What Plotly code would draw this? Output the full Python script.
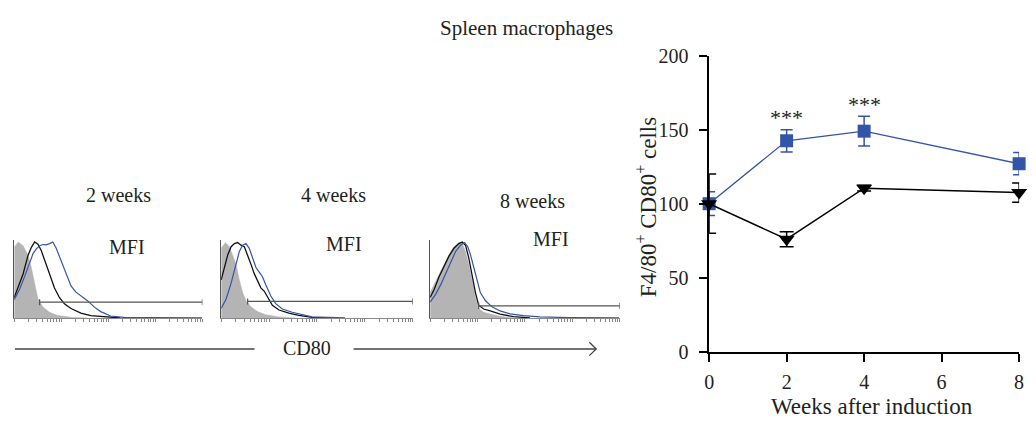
import numpy as np
import plotly.graph_objects as go

W, H = 1036, 434

# ---------------- time course: F4/80+ CD80+ cells ----------------
weeks = [0, 2, 4, 8]
blue_mean = [100, 142.5, 149, 127]
blue_err = [8, 7.5, 10, 7.5]
black_mean = [100, 76, 110.5, 107.5]
black_err = [20, 5, 2, 6.5]
star_weeks = [2, 4]
star_heights = [158.5, 167]
y_ticks = [0, 50, 100, 150, 200]
x_ticks = [0, 2, 4, 6, 8]

# ---------------- CD80 histograms (decades of fluorescence, % of max) ----------------
panel_labels = ["2 weeks", "4 weeks", "8 weeks"]

gray1_x = [0, 0.084, 0.189, 0.295, 0.365, 0.435, 0.505, 0.611, 0.751, 0.926, 1.207, 1.558]
gray1_y = [93.0, 100, 95.0, 82.6, 66.1, 43.4, 24.8, 14.5, 7.4, 3.3, 0.8, 0]
black1_x = [0, 0.084, 0.189, 0.295, 0.365, 0.435, 0.505, 0.575, 0.681, 0.786, 0.856, 0.961,
            1.067, 1.207, 1.418, 1.628, 1.909, 2.260]
black1_y = [26.9, 41.3, 57.9, 82.6, 93.0, 100, 97.1, 88.8, 69.4, 51.7, 39.3, 26.9,
            18.6, 12.4, 6.2, 2.9, 1.2, 0]
blue1_x = [0, 0.119, 0.225, 0.330, 0.400, 0.470, 0.540, 0.611, 0.681, 0.751, 0.821, 0.891,
           0.961, 1.032, 1.102, 1.207, 1.312, 1.453, 1.558, 1.698, 1.839, 2.049, 2.330,
           2.961, 4.0]
blue1_y = [24.0, 38.4, 55.0, 72.7, 84.7, 90.9, 95.0, 96.7, 96.3, 97.9, 100, 92.1,
           80.6, 69.4, 57.9, 42.1, 33.9, 28.1, 22.7, 14.5, 8.3, 2.5, 0.8, 0.4, 0]

gray2_x = [0, 0.090, 0.172, 0.241, 0.310, 0.379, 0.448, 0.517, 0.621, 0.759, 0.931, 1.207, 1.552]
gray2_y = [91.7, 99.2, 93.8, 83.3, 70.8, 50.0, 33.3, 22.9, 14.6, 8.3, 4.2, 1.3, 0]
black2_x = [0, 0.069, 0.138, 0.207, 0.276, 0.345, 0.414, 0.483, 0.552, 0.621, 0.690, 0.759,
            0.828, 0.897, 0.966, 1.069, 1.207, 1.414, 1.621, 1.897, 2.241]
black2_y = [50.0, 66.7, 83.3, 93.8, 97.9, 99.2, 95.8, 93.8, 83.3, 70.8, 58.3, 50.0,
            39.6, 35.4, 27.1, 16.7, 10.4, 6.3, 3.3, 0.8, 0]
blue2_x = [0, 0.103, 0.207, 0.310, 0.379, 0.448, 0.517, 0.586, 0.655, 0.724, 0.793, 0.862,
           0.931, 1.034, 1.138, 1.276, 1.483, 1.690, 1.897, 2.586]
blue2_y = [12.5, 25.0, 45.8, 70.8, 87.5, 95.8, 97.9, 91.7, 79.2, 66.7, 60.4, 54.2,
           43.8, 29.2, 18.8, 11.7, 7.5, 4.2, 1.3, 0]

gray3_x = [0, 0.084, 0.188, 0.293, 0.397, 0.502, 0.606, 0.676, 0.746, 0.815, 0.885, 0.955,
           1.024, 1.129, 1.268, 1.477, 1.756]
gray3_y = [33.3, 43.8, 58.3, 70.8, 83.3, 93.8, 99.2, 97.9, 87.5, 70.8, 50.0, 27.1,
           12.5, 7.5, 5.0, 2.1, 0]
black3_x = [0, 0.084, 0.188, 0.293, 0.397, 0.502, 0.606, 0.676, 0.746, 0.815, 0.885, 0.955,
            1.024, 1.129, 1.268, 1.477, 1.756, 2.105]
black3_y = [27.1, 37.5, 54.2, 68.8, 81.3, 91.7, 97.9, 100, 95.8, 79.2, 54.2, 33.3,
            16.7, 11.7, 9.2, 5.0, 1.7, 0]
blue3_x = [0, 0.118, 0.223, 0.328, 0.432, 0.537, 0.641, 0.725, 0.794, 0.850, 0.920, 0.990,
           1.059, 1.164, 1.303, 1.477, 1.686, 1.965, 2.314, 2.941, 3.986]
blue3_y = [20.8, 31.3, 43.8, 58.3, 72.9, 87.5, 95.8, 99.2, 93.8, 83.3, 66.7, 47.9,
           33.3, 22.9, 14.6, 9.2, 5.4, 2.9, 1.3, 0.4, 0]

# MFI gate: start (decades), end (decades), level (% of max)
gate_start = [0.54, 0.552, 1.024]
gate_end = [4.0, 4.0, 4.0]
gate_level = [20.7, 21.7, 15.8]

FONT = "Liberation Serif"
INK = "#231F20"
BLUE = "#3454A8"
GRAY_FILL = "#B4B4B4"


def fx(p):
    """Pixel x -> paper fraction."""
    return p / W


def fy(p):
    """Pixel y (from top) -> paper fraction."""
    return 1 - p / H


fig = go.Figure()

panels = [
    (gray1_x, gray1_y, black1_x, black1_y, blue1_x, blue1_y),
    (gray2_x, gray2_y, black2_x, black2_y, blue2_x, blue2_y),
    (gray3_x, gray3_y, black3_x, black3_y, blue3_x, blue3_y),
]
panel_px = [(9.3, 199.3), (218.3, 411.7), (429.3, 620.7)]
cap = 4.0

for i, (gx, gy, kx, ky, bx, by) in enumerate(panels):
    xa = "x" if i == 0 else f"x{i + 1}"
    ya = "y" if i == 0 else f"y{i + 1}"
    fig.add_trace(go.Scatter(x=gx, y=gy, mode="lines", fill="tozeroy",
                             fillcolor=GRAY_FILL, line=dict(color=GRAY_FILL, width=0.5),
                             xaxis=xa, yaxis=ya, showlegend=False, hoverinfo="skip"))
    fig.add_trace(go.Scatter(x=kx, y=ky, mode="lines", line=dict(color="#111111", width=1.3),
                             xaxis=xa, yaxis=ya, showlegend=False, hoverinfo="skip"))
    fig.add_trace(go.Scatter(x=bx, y=by, mode="lines", line=dict(color=BLUE, width=1.2),
                             xaxis=xa, yaxis=ya, showlegend=False, hoverinfo="skip"))
    s, e, lv = gate_start[i], gate_end[i], gate_level[i]
    fig.add_trace(go.Scatter(
        x=[s, s, None, s, e, None, e, e],
        y=[lv - cap, lv + cap, None, lv, lv, None, lv - cap, lv + cap],
        mode="lines", line=dict(color="#555555", width=1.2),
        xaxis=xa, yaxis=ya, showlegend=False, hoverinfo="skip"))

# log-decade tick marks on the histogram axes
log_ticks = [k + np.log10(m) for k in range(4) for m in range(1, 10)] + [4]

hist_x_axis = dict(range=[0, 4], showgrid=False, zeroline=False, showline=True,
                   linecolor="#8a8a8a", linewidth=1, ticks="outside", ticklen=3,
                   tickwidth=1, tickcolor="#8a8a8a", tickvals=log_ticks,
                   showticklabels=False, fixedrange=True)
hist_y_axis = dict(range=[0, 102.9], showgrid=False, zeroline=False, showline=True,
                   linecolor="#555555", linewidth=1, ticks="", showticklabels=False,
                   fixedrange=True)

layout_axes = {}
for i, (x0, x1) in enumerate(panel_px):
    xk = "xaxis" if i == 0 else f"xaxis{i + 1}"
    yk = "yaxis" if i == 0 else f"yaxis{i + 1}"
    ya = "y" if i == 0 else f"y{i + 1}"
    xa = "x" if i == 0 else f"x{i + 1}"
    layout_axes[xk] = dict(hist_x_axis, domain=[fx(x0), fx(x1)], anchor=ya)
    layout_axes[yk] = dict(hist_y_axis, domain=[fy(323.3), fy(241)], anchor=xa)

# time course traces
fig.add_trace(go.Scatter(
    x=weeks, y=blue_mean, mode="lines+markers",
    line=dict(color=BLUE, width=1.3),
    marker=dict(symbol="square", size=13, color=BLUE),
    error_y=dict(type="data", array=blue_err, color=BLUE, thickness=1.5, width=6),
    xaxis="x4", yaxis="y4", cliponaxis=False, showlegend=False))
fig.add_trace(go.Scatter(
    x=weeks, y=black_mean, mode="lines+markers",
    line=dict(color="#000000", width=1.5),
    marker=dict(symbol="triangle-down", size=14, color="#000000"),
    error_y=dict(type="data", array=black_err, color="#000000", thickness=1.5, width=7),
    xaxis="x4", yaxis="y4", cliponaxis=False, showlegend=False))

tick_font = dict(family=FONT, size=20, color=INK)
layout_axes["xaxis4"] = dict(domain=[fx(711), fx(1024)], range=[0, 8], anchor="y4",
                             showgrid=False, zeroline=False, showline=True,
                             linecolor="#000000", linewidth=1.5, ticks="outside",
                             ticklen=8, tickwidth=1.5, tickcolor="#000000",
                             tickvals=x_ticks, tickfont=tick_font, ticklabelstandoff=3,
                             fixedrange=True)
layout_axes["yaxis4"] = dict(domain=[fy(359), fy(47)], range=[0, 200], anchor="x4",
                             showgrid=False, zeroline=False, showline=True,
                             linecolor="#000000", linewidth=1.5, ticks="outside",
                             ticklen=8, tickwidth=1.5, tickcolor="#000000",
                             tickvals=y_ticks, tickfont=tick_font, ticklabelstandoff=7,
                             fixedrange=True)

annotations = []
for wk, ht in zip(star_weeks, star_heights):
    annotations.append(dict(x=wk, y=ht, xref="x4", yref="y4", text="***", showarrow=False,
                            font=dict(family=FONT, size=22, color=INK)))


def label(x, y, text, size=20, angle=0):
    annotations.append(dict(x=fx(x), y=fy(y), xref="paper", yref="paper", text=text,
                            showarrow=False, textangle=angle,
                            xanchor="center", yanchor="middle",
                            font=dict(family=FONT, size=size, color=INK)))


label(527, 18, "Spleen macrophages", size=21)
for (x, y), t in zip([(115, 194), (332, 194), (533, 200)], panel_labels):
    label(x, y, t)
for x, y in [(123, 249), (342, 245), (551, 240)]:
    label(x, y, "MFI")
label(305, 355, "CD80")
label(648, 207, "F4/80<sup>+</sup> CD80<sup>+</sup> cells", size=23, angle=-90)
label(875, 417, "Weeks after induction", size=23)

arrow_col = "#444444"
shapes = [
    dict(type="line", xref="paper", yref="paper", x0=fx(10), x1=fx(252), y0=fy(356), y1=fy(356),
         line=dict(color=arrow_col, width=1.5)),
    dict(type="line", xref="paper", yref="paper", x0=fx(352), x1=fx(597), y0=fy(356), y1=fy(356),
         line=dict(color=arrow_col, width=1.5)),
    dict(type="path", xref="paper", yref="paper",
         path=f"M {fx(590)} {fy(349)} L {fx(597)} {fy(356)} L {fx(590)} {fy(363)}",
         line=dict(color=arrow_col, width=1.3)),
]

fig.update_layout(
    width=W, height=H, autosize=False,
    margin=dict(l=0, r=0, t=0, b=0),
    paper_bgcolor="white", plot_bgcolor="white",
    showlegend=False,
    annotations=annotations,
    shapes=shapes,
    **layout_axes,
)

fig.write_html("out.html")
